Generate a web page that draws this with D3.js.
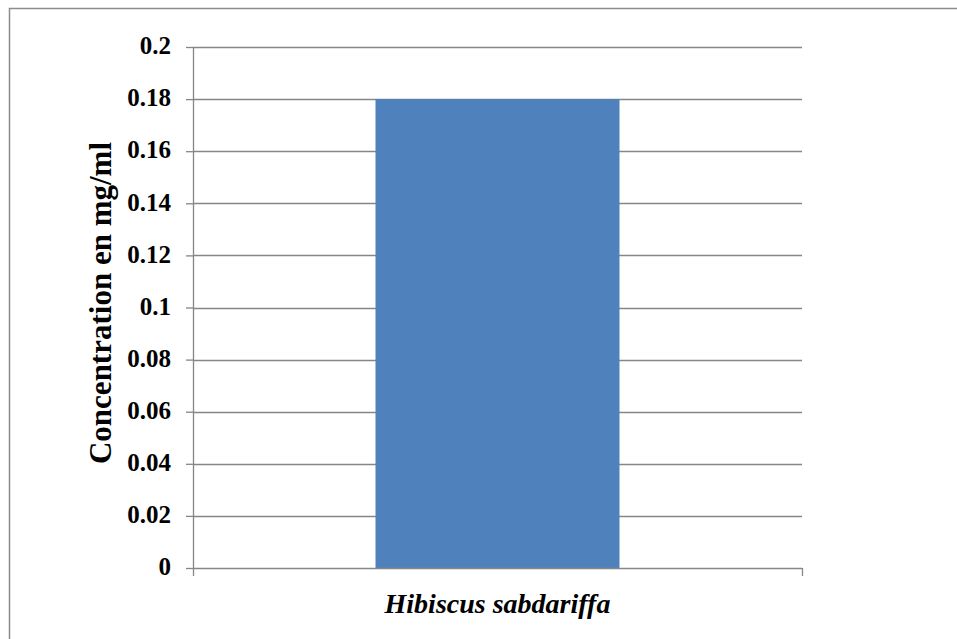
<!DOCTYPE html>
<html>
<head>
<meta charset="utf-8">
<script src="https://cdn.jsdelivr.net/npm/d3@7"></script>
<style>
  body { margin: 0; background: #fff; }
  svg text { font-family: "Liberation Serif", "Times New Roman", serif; font-weight: bold; }
</style>
</head>
<body>
<div id="chart"></div>
<script>
        // Data
        const categories = ["Hibiscus sabdariffa"];
        const values = [0.18];
        const yTicks = [0, 0.02, 0.04, 0.06, 0.08, 0.1, 0.12, 0.14, 0.16, 0.18, 0.2];

        const W = 957, H = 639;
        const margin = { top: 47, right: 155, bottom: 71, left: 193 };
        const width = W - margin.left - margin.right;
        const height = H - margin.top - margin.bottom;

        const svg = d3.select("#chart")
            .append("svg")
            .attr("width", W)
            .attr("height", H);

        // outer frame (runs off the right and bottom edges)
        svg.append("rect")
            .attr("x", 9.5).attr("y", 8.5)
            .attr("width", W + 20).attr("height", H + 20)
            .attr("fill", "none")
            .attr("stroke", "#8c8c8c")
            .attr("stroke-width", 1.5);

        const g = svg.append("g")
            .attr("transform", `translate(${margin.left},${margin.top})`);

        const x = d3.scaleBand()
            .domain(categories)
            .range([0, width])
            .paddingInner(0)
            .paddingOuter(0.748);

        const y = d3.scaleLinear()
            .domain([0, 0.2])
            .range([height, 0]);

        // gridlines
        g.append("g")
            .selectAll("line")
            .data(yTicks.filter(d => d > 0))
            .enter()
            .append("line")
            .attr("x1", 0).attr("x2", width)
            .attr("y1", d => Math.round(y(d)) + 0.5)
            .attr("y2", d => Math.round(y(d)) + 0.5)
            .attr("stroke", "#868686")
            .attr("stroke-width", 1.3);

        // bars
        g.selectAll(".bar")
            .data(values)
            .enter()
            .append("rect")
            .attr("class", "bar")
            .attr("x", (d, i) => x(categories[i]))
            .attr("y", d => y(d))
            .attr("width", x.bandwidth())
            .attr("height", d => height - y(d))
            .attr("fill", "#4F81BD");

        // y axis
        const yAxis = d3.axisLeft(y)
            .tickValues(yTicks)
            .tickFormat(d => d3.format("")(+d.toFixed(2)))
            .tickSize(7)
            .tickPadding(15);

        const ya = g.append("g").call(yAxis);
        ya.select(".domain").remove();
        ya.selectAll(".tick line").attr("stroke", "#868686").attr("stroke-width", 1.3);
        ya.selectAll(".tick text")
            .attr("font-size", 25)
            .attr("dy", "0.27em")
            .attr("fill", "#000")
            .style("font-family", "'Liberation Serif', serif");
        g.append("line")
            .attr("x1", 0.5).attr("x2", 0.5)
            .attr("y1", 0).attr("y2", height)
            .attr("stroke", "#868686").attr("stroke-width", 1.3);

        // x axis
        g.append("line")
            .attr("x1", 0).attr("x2", width)
            .attr("y1", height + 0.5).attr("y2", height + 0.5)
            .attr("stroke", "#868686").attr("stroke-width", 1.3);
        g.selectAll(".xtick")
            .data([0, width])
            .enter()
            .append("line")
            .attr("x1", d => d + 0.5).attr("x2", d => d + 0.5)
            .attr("y1", height).attr("y2", height + 8)
            .attr("stroke", "#868686").attr("stroke-width", 1.3);

        // axis labels
        g.append("text")
            .attr("x", width / 2)
            .attr("y", height + 45)
            .style("text-anchor", "middle")
            .style("font-style", "italic")
            .attr("font-size", 28)
            .text(categories[0]);

        svg.append("text")
            .attr("transform", "rotate(-90)")
            .attr("x", -303)
            .attr("y", 111)
            .style("text-anchor", "middle")
            .attr("font-size", 31)
            .text("Concentration en mg/ml");
</script>
</body>
</html>
